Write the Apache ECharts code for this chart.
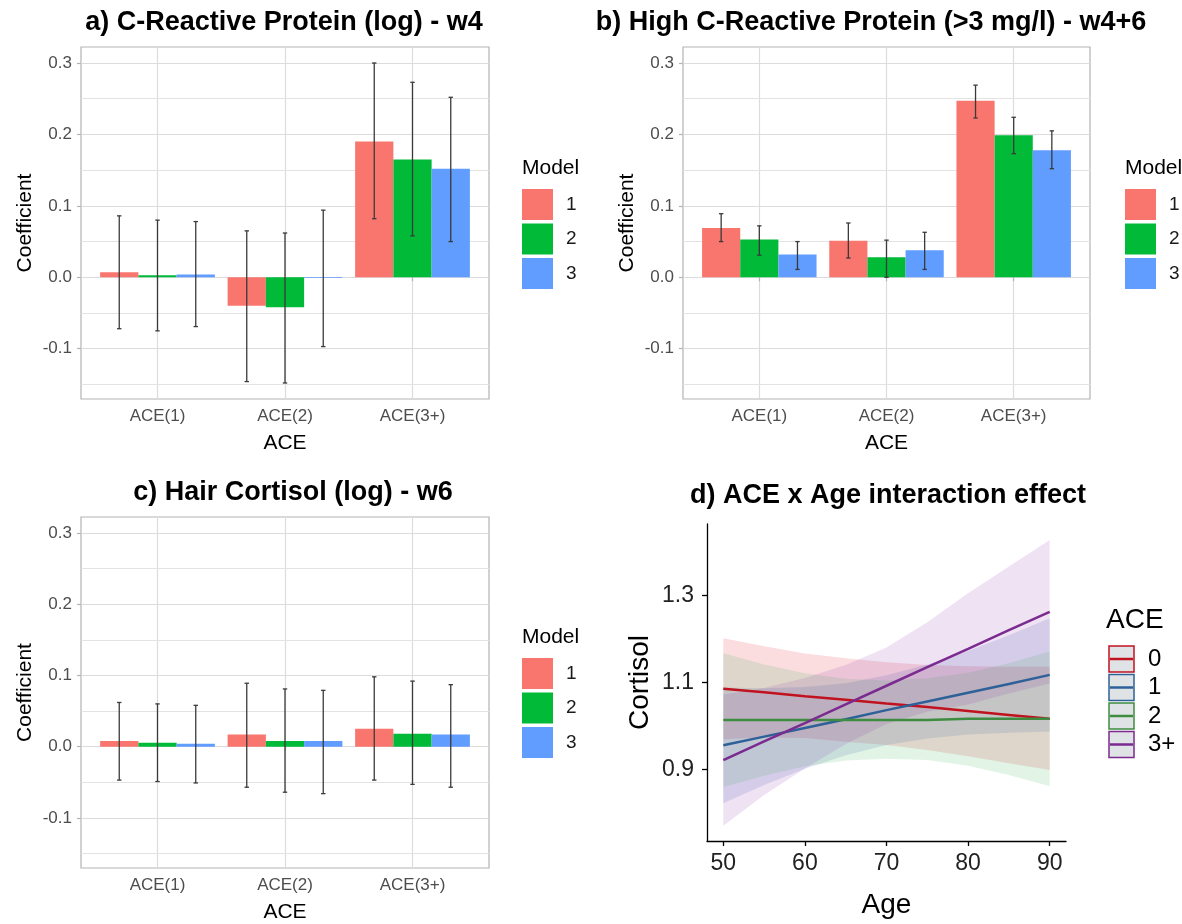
<!DOCTYPE html>
<html>
<head>
<meta charset="utf-8">
<script src="https://cdn.jsdelivr.net/npm/echarts@6/dist/echarts.min.js"></script>
<style>
  html, body { margin: 0; padding: 0; background: #fff; }
  #main { width: 1182px; height: 924px; }
</style>
</head>
<body>
<div id="main"></div>
<script>
// categories
var aceCats = ['ACE(1)', 'ACE(2)', 'ACE(3+)'];
var models = ['1', '2', '3'];
var modelColors = ['#F8766D', '#00BA38', '#619CFF'];

// a) CRP (log) - rows = model 1..3, cols = ACE(1), ACE(2), ACE(3+)
var crpCoef = [[0.007, -0.040, 0.190], [0.003, -0.042, 0.165], [0.004, -0.001, 0.152]];
var crpLow  = [[-0.072, -0.146, 0.082], [-0.075, -0.148, 0.058], [-0.069, -0.097, 0.050]];
var crpHigh = [[0.086, 0.065, 0.300], [0.080, 0.062, 0.273], [0.078, 0.094, 0.252]];

// b) high CRP
var hcrpCoef = [[0.069, 0.051, 0.247], [0.053, 0.028, 0.199], [0.032, 0.038, 0.178]];
var hcrpLow  = [[0.050, 0.027, 0.223], [0.031, 0.000, 0.173], [0.011, 0.011, 0.152]];
var hcrpHigh = [[0.089, 0.076, 0.269], [0.072, 0.052, 0.224], [0.050, 0.063, 0.205]];

// c) hair cortisol
var cortCoef = [[0.008, 0.017, 0.025], [0.0055, 0.008, 0.018], [0.004, 0.008, 0.017]];
var cortLow  = [[-0.047, -0.057, -0.047], [-0.049, -0.064, -0.053], [-0.051, -0.066, -0.057]];
var cortHigh = [[0.062, 0.089, 0.098], [0.060, 0.081, 0.092], [0.058, 0.079, 0.087]];

var coefTicks = [-0.1, 0, 0.1, 0.2, 0.3];
var coefMinor = [-0.15, -0.05, 0.05, 0.15, 0.25];

// d) ACE x Age
var aceGroups = ['0', '1', '2', '3+'];
var ages = [50, 55, 60, 65, 70, 75, 80, 85, 90];
var fit0 = [1.085, 1.077, 1.068, 1.060, 1.051, 1.043, 1.034, 1.025, 1.016];
var lo0  = [0.969, 0.973, 0.972, 0.963, 0.956, 0.944, 0.930, 0.914, 0.898];
var hi0  = [1.201, 1.183, 1.166, 1.155, 1.146, 1.140, 1.137, 1.136, 1.136];
var fit1 = [0.955, 0.975, 0.995, 1.015, 1.036, 1.056, 1.076, 1.096, 1.117];
var lo1  = [0.822, 0.864, 0.901, 0.932, 0.956, 0.971, 0.980, 0.984, 0.987];
var hi1  = [1.088, 1.086, 1.089, 1.098, 1.116, 1.141, 1.172, 1.208, 1.247];
var fit2 = [1.013, 1.013, 1.013, 1.013, 1.013, 1.013, 1.016, 1.016, 1.016];
var lo2  = [0.859, 0.885, 0.907, 0.920, 0.924, 0.921, 0.908, 0.887, 0.861];
var hi2  = [1.167, 1.141, 1.121, 1.108, 1.104, 1.109, 1.122, 1.144, 1.171];
var fit3 = [0.921, 0.964, 1.006, 1.049, 1.092, 1.135, 1.177, 1.220, 1.262];
var lo3  = [0.770, 0.841, 0.902, 0.958, 1.004, 1.032, 1.049, 1.074, 1.097];
var hi3  = [1.072, 1.087, 1.110, 1.140, 1.180, 1.238, 1.305, 1.366, 1.427];
var ageTicks = [50, 60, 70, 80, 90];
var cortisolTicks = [0.9, 1.1, 1.3];

var lineColors = ['#c1121f', '#2d6197', '#3d8c40', '#7b2b8f'];
var bandColors = ['rgba(235,60,80,0.18)', 'rgba(50,90,175,0.15)', 'rgba(60,180,90,0.15)', 'rgba(150,60,175,0.15)'];

var FONT = '"Liberation Sans", Arial, sans-serif';

var panels = [
  {title: 'a) C-Reactive Protein (log) - w4', coef: crpCoef, low: crpLow, high: crpHigh,
   left: 81, top: 47, width: 408, height: 352, titleX: 284, titleY: 9, legLeft: 522, legTop: 189},
  {title: 'b) High C-Reactive Protein (>3 mg/l) - w4+6', coef: hcrpCoef, low: hcrpLow, high: hcrpHigh,
   left: 683, top: 47, width: 407, height: 352, titleX: 871, titleY: 9, legLeft: 1125, legTop: 189},
  {title: 'c) Hair Cortisol (log) - w6', coef: cortCoef, low: cortLow, high: cortHigh,
   left: 81, top: 517, width: 408, height: 351, titleX: 293, titleY: 479, legLeft: 522, legTop: 658}
];

var grids = [], xAxes = [], yAxes = [], series = [], legends = [], graphics = [];

function errRender(params, api) {
  var x = api.value(0) + (api.value(1) - 1) * 0.3;
  var top = api.coord([x, api.value(3)]);
  var bot = api.coord([x, api.value(2)]);
  var w = 2.2;
  var st = {stroke: '#3a3a3a', lineWidth: 1.3};
  return {type: 'group', children: [
    {type: 'line', shape: {x1: top[0], y1: top[1], x2: bot[0], y2: bot[1]}, style: st},
    {type: 'line', shape: {x1: top[0] - w, y1: top[1], x2: top[0] + w, y2: top[1]}, style: st},
    {type: 'line', shape: {x1: bot[0] - w, y1: bot[1], x2: bot[0] + w, y2: bot[1]}, style: st}
  ]};
}

panels.forEach(function (p, pi) {
  grids.push({left: p.left, top: p.top, width: p.width, height: p.height, show: true,
    borderColor: '#b3b3b3', borderWidth: 1.2, backgroundColor: 'transparent'});
  xAxes.push({
    type: 'value', gridIndex: pi, min: 0.4, max: 3.6, splitNumber: 3,
    name: 'ACE', nameLocation: 'middle', nameGap: 34,
    nameTextStyle: {fontSize: 21, color: '#000', fontFamily: FONT},
    axisLine: {show: false},
    axisTick: {show: true, length: 4, lineStyle: {color: '#b3b3b3', width: 1.2}, customValues: [1, 2, 3]},
    axisLabel: {customValues: [1, 2, 3], margin: 9, fontSize: 17, color: '#4d4d4d', fontFamily: FONT,
      formatter: function (v) { return aceCats[Math.round(v) - 1] || ''; }},
    splitLine: {show: true, lineStyle: {color: '#dcdcdc', width: 1.2}}
  });
  yAxes.push({
    type: 'value', gridIndex: pi, min: -0.1704, max: 0.3224, splitNumber: 5,
    name: 'Coefficient', nameLocation: 'middle', nameGap: 45,
    nameTextStyle: {fontSize: 21, color: '#000', fontFamily: FONT},
    axisLine: {show: false},
    axisTick: {show: true, length: 4, lineStyle: {color: '#b3b3b3', width: 1.2}, customValues: coefTicks},
    axisLabel: {customValues: coefTicks, margin: 9, fontSize: 17, color: '#4d4d4d', fontFamily: FONT,
      formatter: function (v) { return v.toFixed(1); }},
    splitLine: {show: true, lineStyle: {color: '#dcdcdc', width: 1.2}}
  });
  // minor grid lines, kept behind the bars
  series.push({
    type: 'line', name: 'minor' + pi, xAxisIndex: pi, yAxisIndex: pi, data: [], z: 1, silent: true,
    markLine: {silent: true, z: 1, symbol: ['none', 'none'], label: {show: false}, animation: false,
      lineStyle: {color: '#e3e3e3', width: 1, type: 'solid'},
      data: coefMinor.map(function (v) { return {yAxis: v}; })}
  });
  var barW = p.width * 0.3 / 3.2;
  models.forEach(function (m, mi) {
    series.push({
      type: 'bar', name: m, xAxisIndex: pi, yAxisIndex: pi, barWidth: barW, barGap: '0%', z: 2,
      itemStyle: {color: modelColors[mi]},
      data: p.coef[mi].map(function (v, ci) { return [ci + 1, v]; })
    });
  });
  var errData = [];
  models.forEach(function (m, mi) {
    aceCats.forEach(function (c, ci) {
      errData.push([ci + 1, mi, p.low[mi][ci], p.high[mi][ci]]);
    });
  });
  series.push({
    type: 'custom', name: 'ci' + pi, xAxisIndex: pi, yAxisIndex: pi, z: 3, silent: true,
    renderItem: errRender, encode: {x: 0, y: [2, 3]}, data: errData
  });
  legends.push({
    data: models, orient: 'vertical', left: p.legLeft, top: p.legTop, padding: 0,
    itemWidth: 31, itemHeight: 31, itemGap: 3.5, icon: 'rect', selectedMode: false,
    textStyle: {fontSize: 19, color: '#1a1a1a', fontFamily: FONT, padding: [0, 0, 0, 8]}
  });
  graphics.push({type: 'text', x: p.titleX, y: p.titleY, silent: true,
    style: {text: p.title, font: 'bold 27px ' + FONT, fill: '#000', align: 'center', verticalAlign: 'top'}});
  graphics.push({type: 'text', x: p.legLeft, y: p.legTop - 31, silent: true,
    style: {text: 'Model', font: '21px ' + FONT, fill: '#000', align: 'left', verticalAlign: 'top'}});
});

// panel d
grids.push({left: 707, top: 524, width: 359, height: 317, show: false});
xAxes.push({
  type: 'value', gridIndex: 3, min: 48, max: 92,
  name: 'Age', nameLocation: 'middle', nameGap: 50,
  nameTextStyle: {fontSize: 28, color: '#000', fontFamily: FONT},
  axisLine: {show: true, lineStyle: {color: '#000', width: 1.3}},
  axisTick: {show: true, length: 5, lineStyle: {color: '#000', width: 1.3}, customValues: ageTicks},
  axisLabel: {customValues: ageTicks, margin: 11, fontSize: 23, color: '#222', fontFamily: FONT},
  splitLine: {show: false}
});
yAxes.push({
  type: 'value', gridIndex: 3, min: 0.735, max: 1.464,
  name: 'Cortisol', nameLocation: 'middle', nameGap: 53,
  nameTextStyle: {fontSize: 28, color: '#000', fontFamily: FONT},
  axisLine: {show: true, lineStyle: {color: '#000', width: 1.3}},
  axisTick: {show: true, length: 5, lineStyle: {color: '#000', width: 1.3}, customValues: cortisolTicks},
  axisLabel: {customValues: cortisolTicks, margin: 13, fontSize: 23, color: '#222', fontFamily: FONT,
    formatter: function (v) { return v.toFixed(1); }},
  splitLine: {show: false}
});

var fits = [fit0, fit1, fit2, fit3];
var los = [lo0, lo1, lo2, lo3];
var his = [hi0, hi1, hi2, hi3];

// confidence ribbons as polygons through the axis scales
aceGroups.forEach(function (g, k) {
  series.push({
    type: 'custom', name: 'band' + g, xAxisIndex: 3, yAxisIndex: 3, z: 2, silent: true,
    data: ages.map(function (a, i) { return [a, los[k][i], his[k][i]]; }),
    encode: {x: 0, y: [1, 2]},
    renderItem: function (params, api) {
      if (params.dataIndex !== 0) return null;
      var pts = [];
      for (var i = 0; i < ages.length; i++) pts.push(api.coord([ages[i], his[k][i]]));
      for (var j = ages.length - 1; j >= 0; j--) pts.push(api.coord([ages[j], los[k][j]]));
      return {type: 'polygon', shape: {points: pts}, style: {fill: bandColors[k]}};
    }
  });
});
aceGroups.forEach(function (g, k) {
  series.push({
    type: 'line', name: 'ACE ' + g, xAxisIndex: 3, yAxisIndex: 3, z: 3, silent: true,
    symbol: 'none', lineStyle: {color: lineColors[k], width: 2.5},
    data: ages.map(function (a, i) { return [a, fits[k][i]]; })
  });
});

// title d and ACE legend
graphics.push({type: 'text', x: 888, y: 482, silent: true,
  style: {text: 'd) ACE x Age interaction effect', font: 'bold 27px ' + FONT, fill: '#000', align: 'center', verticalAlign: 'top'}});
graphics.push({type: 'text', x: 1106, y: 606, silent: true,
  style: {text: 'ACE', font: '28px ' + FONT, fill: '#000', align: 'left', verticalAlign: 'top'}});
aceGroups.forEach(function (g, k) {
  var y = 646 + k * 28.5;
  graphics.push({type: 'rect', x: 1109, y: y, shape: {width: 25, height: 26}, silent: true,
    style: {fill: '#e0e3e5', stroke: lineColors[k], lineWidth: 1.5}});
  graphics.push({type: 'line', shape: {x1: 1110, y1: y + 13, x2: 1133, y2: y + 13}, silent: true,
    style: {stroke: lineColors[k], lineWidth: 2.5}});
  graphics.push({type: 'text', x: 1148, y: y + 13, silent: true,
    style: {text: g, font: '24px ' + FONT, fill: '#000', align: 'left', verticalAlign: 'middle'}});
});

var chart = echarts.init(document.getElementById('main'), null, {renderer: 'canvas'});
chart.setOption({
  animation: false,
  backgroundColor: '#fff',
  textStyle: {fontFamily: FONT},
  grid: grids,
  xAxis: xAxes,
  yAxis: yAxes,
  legend: legends,
  series: series,
  graphic: graphics
});
</script>
</body>
</html>
